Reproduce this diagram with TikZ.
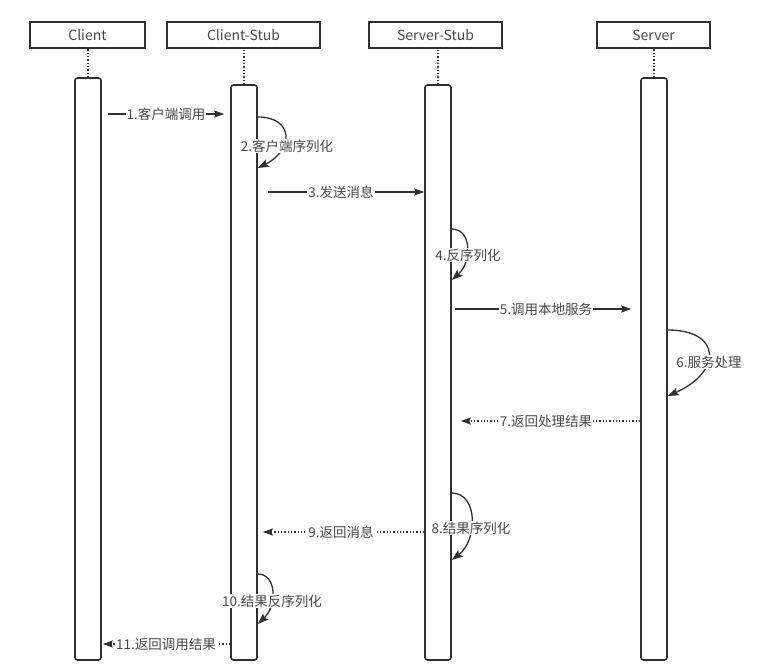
\documentclass[tikz,border=0pt]{standalone}
\usepackage{fontspec}
\setmainfont{Noto Sans CJK SC}
\usetikzlibrary{arrows.meta}
\definecolor{ln}{HTML}{303030}
\definecolor{tx}{HTML}{484848}
\begin{document}
\begin{tikzpicture}[x=1pt,y=-1pt,
  txtfont/.style={font=\fontsize{13.5}{15}\selectfont},
  hdr/.style={draw=ln,line width=1.6pt,minimum height=26pt,inner sep=0pt,font=\fontsize{14}{16}\selectfont,text=tx},
  act/.style={draw=ln,line width=1.6pt,rounded corners=2.5pt,minimum width=26pt,inner sep=0pt},
  life/.style={draw=ln,line width=1.3pt,dotted},
  msg/.style={draw=ln,line width=1.3pt,-{Stealth[length=10pt,width=7pt,inset=1.5pt]}},
  ret/.style={msg,dotted},
  lbl/.style={fill=white,inner sep=1pt,text=tx,txtfont},
  selfloop/.style={draw=ln,line width=1.3pt,-{Stealth[length=11pt,width=8pt,inset=2pt]}}
]
\useasboundingbox (0,0) rectangle (775,671);

% headers
\node[hdr,minimum width=115pt] (h1) at (87.5,35) {Client};
\node[hdr,minimum width=153pt] (h2) at (243.5,35) {Client-Stub};
\node[hdr,minimum width=133pt] (h3) at (435.5,35) {Server-Stub};
\node[hdr,minimum width=113pt] (h4) at (653.5,35) {Server};

% activation bars
\node[act,minimum height=582pt] (a1) at (88,369) {};
\node[act,minimum height=575pt] (a2) at (244,372.5) {};
\node[act,minimum height=575pt] (a3) at (438,372.5) {};
\node[act,minimum height=582pt] (a4) at (654,369) {};

% lifelines
\draw[life] (a1.north) -- (a1.north |- h1.south);
\draw[life] (a2.north) -- (a2.north |- h2.south);
\draw[life] (a3.north) -- (a3.north |- h3.south);
\draw[life] (a4.north) -- (a4.north |- h4.south);

% messages
\draw[msg,shorten <=6pt,shorten >=6pt] (a1.east |- 0,114) -- node[lbl]{1.客户端调用} (a2.west |- 0,114);
\draw[msg,shorten <=10pt] (a2.east |- 0,192) -- node[lbl]{3.发送消息} (a3.west |- 0,192);
\draw[msg,shorten <=3pt,shorten >=9pt] (a3.east |- 0,309) -- node[lbl]{5.调用本地服务} (a4.west |- 0,309);
\draw[ret,shorten >=9pt] (a4.west |- 0,421) -- node[lbl]{7.返回处理结果} (a3.east |- 0,421);
\draw[ret,shorten >=5pt] (a3.west |- 0,532) -- node[lbl]{9.返回消息} (a2.east |- 0,532);
\draw[ret,shorten >=1pt] (a2.west |- 0,644) -- node[lbl]{11.返回调用结果} (a1.east |- 0,644);

% self calls
\draw[selfloop] (a2.east |- 0,117) .. controls (294,117) and (294,150) .. (a2.east |- 0,168);
\node[lbl] (l2) at (287,146) {2.客户端序列化};
\draw[selfloop] (a3.east |- 0,229) .. controls (472,229) and (472,262) .. (a3.east |- 0,280);
\node[lbl] (l4) at (468,255) {4.反序列化};
\draw[selfloop] (a4.east |- 0,330) .. controls (722,330) and (722,372) .. (a4.east |- 0,396);
\node[lbl] (l6) at (709,362) {6.服务处理};
\draw[selfloop] (a3.east |- 0,493) .. controls (478,493) and (478,540) .. (a3.east |- 0,560);
\node[lbl] (l8) at (471,528) {8.结果序列化};
\draw[selfloop] (a2.east |- 0,574) .. controls (277,574) and (277,606) .. (a2.east |- 0,624);
\node[lbl] (l10) at (272,601) {10.结果反序列化};
\end{tikzpicture}
\end{document}
